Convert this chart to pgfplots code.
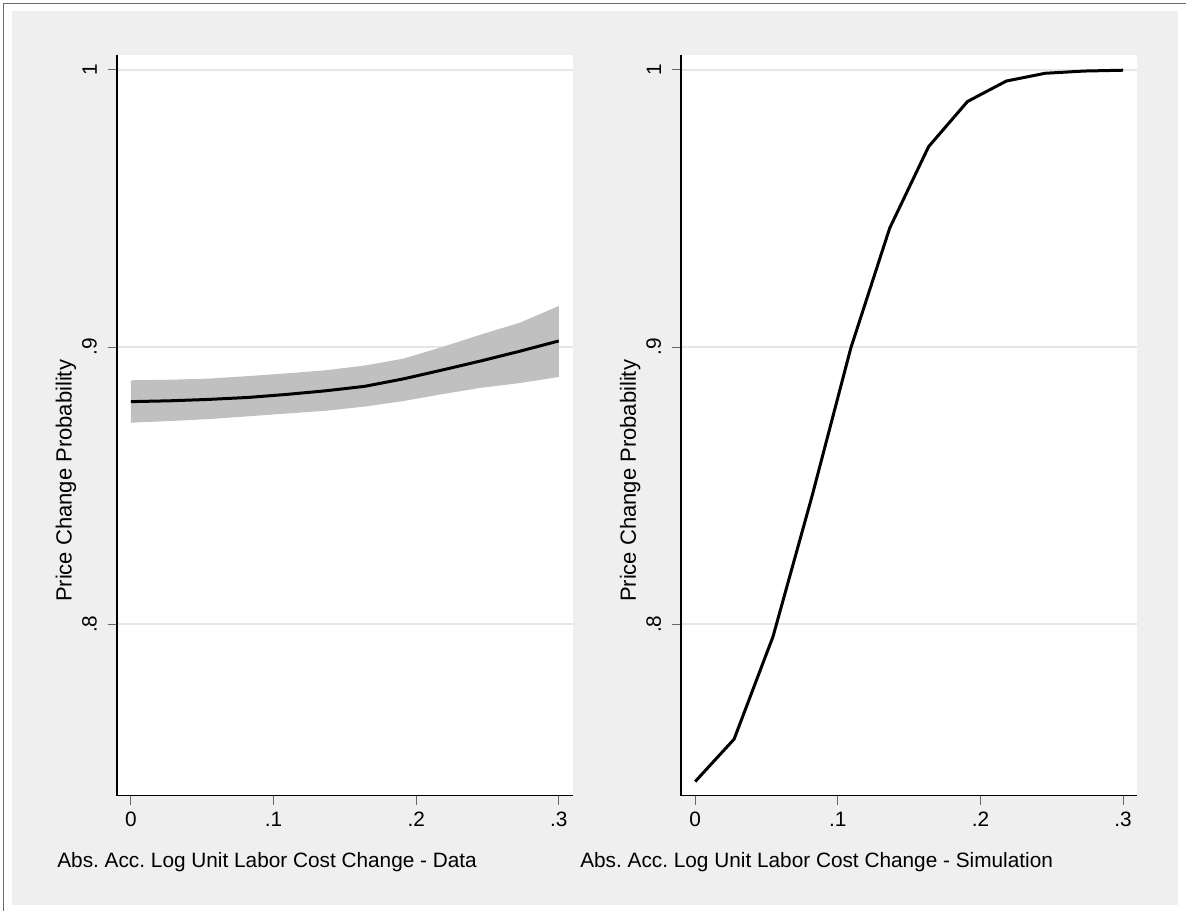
\documentclass[border=0pt]{standalone}
\usepackage{fontspec}
\setmainfont{Liberation Sans}
\usepackage{pgfplots}
\usepackage{pgfplotstable}
\pgfplotsset{compat=1.18}
\frenchspacing

\definecolor{bggray}{HTML}{EFEFEF}
\definecolor{bandgray}{HTML}{C0C0C0}
\definecolor{gridgray}{HTML}{E6E6E6}
\definecolor{framegray}{HTML}{6A6A6A}

\pgfplotstableread{
x        mean
0.000000 0.8803
0.027273 0.8806
0.054545 0.8811
0.081818 0.8818
0.109091 0.8829
0.136364 0.8842
0.163636 0.8858
0.190909 0.8885
0.218182 0.8917
0.245455 0.8950
0.272727 0.8985
0.300000 0.9022
}\datatable

% confidence band: upper bound left to right, then lower bound right to left
\pgfplotstableread{
x        b
0.000000 0.8880
0.027273 0.8882
0.054545 0.8886
0.081818 0.8895
0.109091 0.8905
0.136364 0.8916
0.163636 0.8933
0.190909 0.8958
0.218182 0.9000
0.245455 0.9045
0.272727 0.9088
0.300000 0.9148
0.300000 0.8892
0.272727 0.8870
0.245455 0.8853
0.218182 0.8830
0.190909 0.8805
0.163636 0.8785
0.136364 0.8770
0.109091 0.8760
0.081818 0.8750
0.054545 0.8740
0.027273 0.8733
0.000000 0.8727
}\bandtable

\pgfplotstableread{
x        p
0.000000 0.7432
0.027273 0.7585
0.054545 0.7955
0.081818 0.8460
0.109091 0.8996
0.136364 0.9429
0.163636 0.9723
0.190909 0.9886
0.218182 0.9960
0.245455 0.9988
0.272727 0.9996
0.300000 0.9999
}\simtable

\pgfplotsset{
  stataax/.style={
    scale only axis, width=228pt, height=370.5pt,
    xmin=-0.0098, xmax=0.3098, ymin=0.7381, ymax=1.0054,
    axis lines*=left,
    axis line style={black, line width=0.8pt},
    axis background/.style={fill=white},
    xtick={0,0.1,0.2,0.3}, xticklabels={0,.1,.2,.3},
    ytick={0.8,0.9,1}, yticklabels={.8,.9,1},
    tick align=outside, major tick length=4.5pt,
    tick style={color=black!60, line width=0.5pt},
    ymajorgrids,
    major grid style={gridgray, line width=0.75pt},
    /pgf/number format/assume math mode=true,
    font=\fontsize{10.4}{12}\selectfont,
    yticklabel style={rotate=90, anchor=south},
    yticklabel shift=2pt,
    ylabel={Price Change Probability},
    ylabel style={at={(axis description cs:-0.112,0.425)}, anchor=center,
                  font=\fontsize{11}{13}\selectfont},
  }
}

\begin{document}
\begin{tikzpicture}
\fill[white] (0,0) rectangle (593pt,455.5pt);
\fill[bggray] (6pt,3pt) rectangle (589pt,450pt);
\draw[framegray, line width=0.5pt] (1.75pt,0pt) -- (1.75pt,453.75pt) -- (593pt,453.75pt);

\begin{axis}[stataax, at={(58.5pt,57.5pt)}, anchor=south west,
  xlabel={Abs. Acc. Log Unit Labor Cost Change - Data},
  xlabel style={at={(axis description cs:-0.1316,-0.0968)}, anchor=base west, inner sep=0pt}]
  \addplot[fill=bandgray, draw=none] table[x=x, y=b] {\bandtable} -- cycle;
  \addplot[black, line width=1.5pt, line join=round] table[x=x, y=mean] {\datatable};
\end{axis}

\begin{axis}[stataax, at={(340.75pt,57.5pt)}, anchor=south west,
  xlabel={Abs. Acc. Log Unit Labor Cost Change - Simulation},
  xlabel style={at={(axis description cs:-0.2223,-0.0968)}, anchor=base west, inner sep=0pt}]
  \addplot[black, line width=1.5pt, line join=round] table[x=x, y=p] {\simtable};
\end{axis}
\end{tikzpicture}
\end{document}
